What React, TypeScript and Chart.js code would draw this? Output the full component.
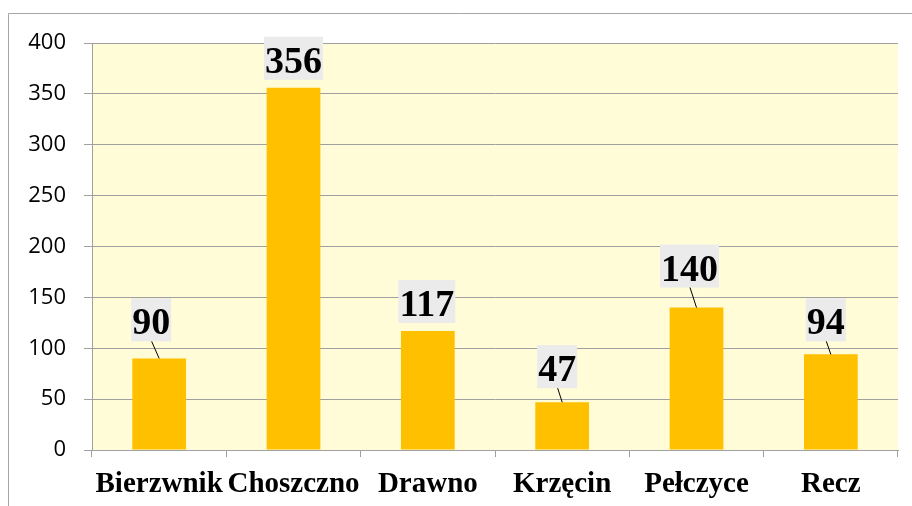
import React, { useEffect, useRef } from "react";
import { Chart, registerables } from "chart.js";

Chart.register(...registerables);

const categories: string[] = ["Bierzwnik", "Choszczno", "Drawno", "Krzęcin", "Pełczyce", "Recz"];
const values: number[] = [90, 356, 117, 47, 140, 94];
const yTicks: number[] = [0, 50, 100, 150, 200, 250, 300, 350, 400];

// label placement (layout only): [dx from bar centre, gap above bar top]
const labelPlacement: [number, number][] = [
  [-8, 17],
  [0, 8],
  [-1, 8],
  [-5, 14],
  [-7, 20],
  [-5, 13],
];

const GRID = "#A0A0A0";
const PLOT_BG = "#FFFCD7";
const BAR = "#FFC000";

const bgPlugin = {
  id: "bgPlugin",
  beforeDraw(chart: any) {
    const { ctx, chartArea } = chart;
    ctx.save();
    ctx.fillStyle = "#FFFFFF";
    ctx.fillRect(0, 0, chart.width, chart.height);
    ctx.fillStyle = PLOT_BG;
    ctx.fillRect(chartArea.left, chartArea.top, chartArea.right - chartArea.left, chartArea.bottom - chartArea.top);
    ctx.strokeStyle = "#A6A6A6";
    ctx.lineWidth = 1;
    ctx.beginPath();
    ctx.moveTo(8.5, chart.height);
    ctx.lineTo(8.5, 13.5);
    ctx.lineTo(chart.width, 13.5);
    ctx.stroke();
    ctx.restore();
  },
};

const labelPlugin = {
  id: "labelPlugin",
  afterDatasetsDraw(chart: any) {
    const { ctx } = chart;
    const meta = chart.getDatasetMeta(0);
    ctx.save();
    ctx.font = 'bold 38px "Liberation Serif", "Times New Roman", serif';
    meta.data.forEach((bar: any, i: number) => {
      const text = String(values[i]);
      const [dx, gap] = labelPlacement[i];
      const w = ctx.measureText(text).width + 2;
      const h = 43;
      const cx = bar.x + dx;
      const bottom = bar.y - gap;
      ctx.fillStyle = "#EBEBEB";
      ctx.fillRect(cx - w / 2, bottom - h, w, h);
      ctx.fillStyle = "#000000";
      ctx.textAlign = "center";
      ctx.textBaseline = "alphabetic";
      ctx.fillText(text, cx, bottom - 7);
      if (gap > 10) {
        ctx.strokeStyle = "#000000";
        ctx.lineWidth = 1;
        ctx.beginPath();
        ctx.moveTo(cx + 0.5, bottom);
        ctx.lineTo(bar.x, bar.y);
        ctx.stroke();
      }
    });
    ctx.restore();
  },
};

export default function App() {
  const ref = useRef<HTMLCanvasElement | null>(null);

  useEffect(() => {
    if (!ref.current) return;
    const chart = new Chart(ref.current, {
      type: "bar",
      data: {
        labels: categories,
        datasets: [
          {
            data: values,
            backgroundColor: BAR,
            borderWidth: 0,
            categoryPercentage: 1,
            barPercentage: 0.4,
          },
        ],
      },
      options: {
        responsive: false,
        devicePixelRatio: 1,
        animation: false,
        layout: { padding: { left: 0, right: 14, top: 43, bottom: 0 } },
        plugins: {
          legend: { display: false },
          tooltip: { enabled: false },
          title: { display: false },
        },
        scales: {
          x: {
            offset: true,
            grid: {
              offset: true,
              drawOnChartArea: false,
              drawTicks: true,
              tickLength: 7,
              color: GRID,
            },
            border: { display: true, color: GRID },
            ticks: {
              color: "#000000",
              padding: 10,
              maxRotation: 0,
              autoSkip: false,
              font: { family: '"Liberation Serif", "Times New Roman", serif', size: 29, weight: "bold" },
            },
            afterFit(scale: any) {
              scale.height = 56;
            },
          },
          y: {
            min: 0,
            max: 400,
            afterBuildTicks(scale: any) {
              scale.ticks = yTicks.map((v) => ({ value: v }));
            },
            grid: { color: GRID, tickLength: 8, drawTicks: true },
            border: { display: true, color: GRID },
            ticks: {
              color: "#000000",
              padding: 18,
              font: { family: '"Open Sans", "Liberation Sans", sans-serif', size: 22 },
            },
            afterFit(scale: any) {
              scale.width = 92;
            },
          },
        },
      },
      plugins: [bgPlugin, labelPlugin],
    });
    return () => chart.destroy();
  }, []);

  return (
    <canvas
      ref={ref}
      width={912}
      height={506}
      style={{ position: "fixed", left: 0, top: 0, width: 912, height: 506 }}
    />
  );
}
